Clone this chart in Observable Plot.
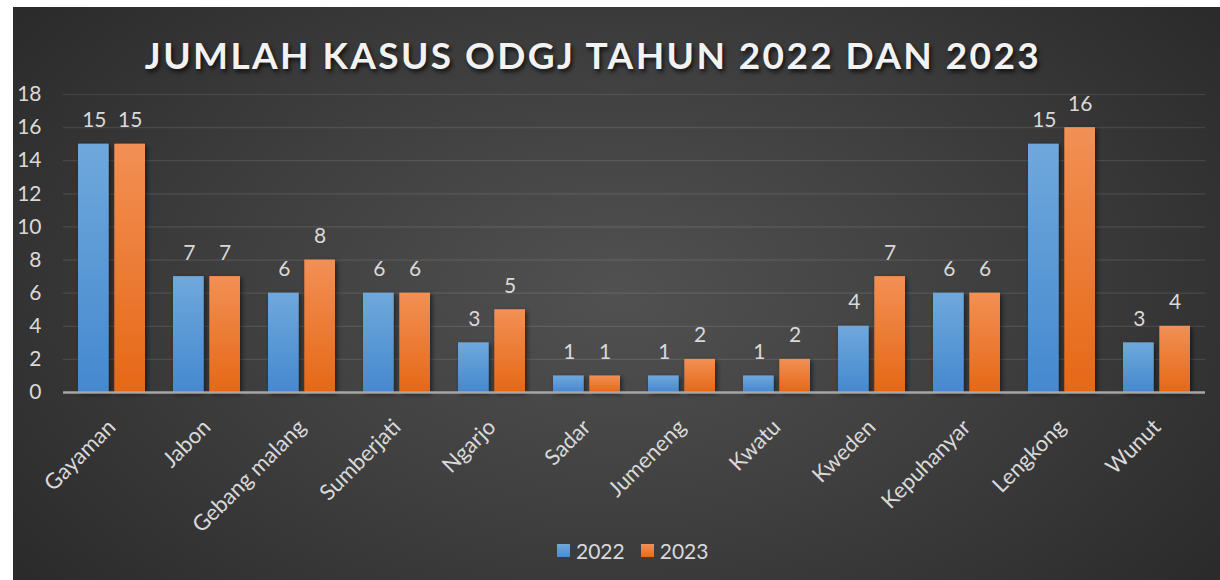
<!DOCTYPE html>
<html>
<head>
<meta charset="utf-8">
<script src="https://cdn.jsdelivr.net/npm/d3@7"></script>
<script src="https://cdn.jsdelivr.net/npm/@observablehq/plot@0.6"></script>
<style>
  html, body { margin: 0; padding: 0; background: #ffffff; }
  #frame {
    position: absolute; left: 13px; top: 7px; width: 1207px; height: 573px;
    background: radial-gradient(ellipse 62% 80% at 50% 50%, #515151 0%, #3f3f3f 50%, #2b2b2b 100%);
    overflow: hidden;
    font-family: Lato, "Open Sans", sans-serif;
  }
  #title {
    position: absolute; left: 0; width: 1160px; top: 25px; text-align: center;
    font-size: 37px; font-weight: 700; letter-spacing: 2.4px; color: #f2f2f2;
    text-shadow: 2px 3px 4px rgba(0,0,0,0.7);
  }
  #chart { position: absolute; left: 0; top: 73px; }
  #chart svg { overflow: visible; }
  #legend {
    position: absolute; left: 544px; top: 531px; display: flex; align-items: center;
    font-size: 21px; color: #d9d9d9;
  }
  .sw { width: 13px; height: 13px; display: inline-block; margin-right: 6px; }
  .item { display: flex; align-items: center; margin-right: 16px; }
</style>
</head>
<body>
<div id="frame">
  <div id="title">JUMLAH KASUS ODGJ TAHUN 2022 DAN 2023</div>
  <div id="chart"></div>
  <div id="legend"></div>
</div>
<script>
const categories = ["Gayaman","Jabon","Gebang malang","Sumberjati","Ngarjo","Sadar","Jumeneng","Kwatu","Kweden","Kepuhanyar","Lengkong","Wunut"];
const values2022 = [15,7,6,6,3,1,1,1,4,6,15,3];
const values2023 = [15,7,8,6,5,1,2,2,7,6,16,4];
const years = ["2022","2023"];
const yTicks = [0,2,4,6,8,10,12,14,16,18];

const swatchCss = {"2022": "linear-gradient(#6fa8dc,#4a8bd0)", "2023": "linear-gradient(#f29055,#e8691a)"};

const rows2022 = categories.map((c, i) => ({cat: c, value: values2022[i]}));
const rows2023 = categories.map((c, i) => ({cat: c, value: values2023[i]}));

function defs() {
  const ns = "http://www.w3.org/2000/svg";
  const d = document.createElementNS(ns, "defs");
  const mk = (id, top, bot) => {
    const g = document.createElementNS(ns, "linearGradient");
    g.setAttribute("id", id);
    g.setAttribute("x1", "0"); g.setAttribute("y1", "0");
    g.setAttribute("x2", "0"); g.setAttribute("y2", "1");
    [[0, top], [1, bot]].forEach(([o, c]) => {
      const s = document.createElementNS(ns, "stop");
      s.setAttribute("offset", o); s.setAttribute("stop-color", c);
      g.appendChild(s);
    });
    d.appendChild(g);
  };
  mk("gBlue", "#6fa8dc", "#4589cf");
  mk("gOrange", "#f29055", "#e66816");
  const f = document.createElementNS(ns, "filter");
  f.setAttribute("id", "shadow");
  f.setAttribute("x", "-30%"); f.setAttribute("y", "-10%");
  f.setAttribute("width", "160%"); f.setAttribute("height", "130%");
  f.innerHTML = '<feDropShadow dx="2" dy="2" stdDeviation="2.5" flood-color="#000" flood-opacity="0.55"/>';
  d.appendChild(f);
  return d;
}

// layout: band step ≈ 95.2px, bandwidth ≈ 66.6px, each bar ≈ 30.3px, gap 6px
const W = 1207, ML = 50, MR = 15;
const step = (W - ML - MR) / categories.length;
const band = step * 0.7;
const gap = 6;
const half = (band - gap) / 2;
const off = (half + gap) / 2;

const chart = Plot.plot({
  width: W,
  height: 455,
  marginLeft: ML,
  marginRight: MR,
  marginTop: 14,
  marginBottom: 143,
  style: {background: "transparent", fontFamily: "Lato, 'Open Sans', sans-serif", color: "#d9d9d9", overflow: "visible"},
  x: {domain: categories, paddingInner: 0.3, paddingOuter: 0.15, label: null},
  y: {domain: [0, 18], label: null},
  marks: [
    defs,
    Plot.gridY(yTicks.filter(t => t > 0), {stroke: "#ffffff", strokeOpacity: 0.1, strokeWidth: 1.2}),
    Plot.axisY({ticks: yTicks, tickSize: 0, tickPadding: 22, fontSize: 21, fill: "#d9d9d9", label: null}),
    Plot.axisX({tickRotate: -45, tickSize: 0, tickPadding: 31, fontSize: 22, fill: "#d9d9d9", label: null}),
    Plot.barY(rows2022, {x: "cat", y: "value", fill: "url(#gBlue)", insetRight: half + gap}),
    Plot.barY(rows2023, {x: "cat", y: "value", fill: "url(#gOrange)", insetLeft: half + gap}),
    Plot.text(rows2022, {x: "cat", y: "value", text: d => String(d.value), dx: -off + 0.5, dy: -17, lineAnchor: "bottom", fontSize: 21, fill: "#d9d9d9"}),
    Plot.text(rows2023, {x: "cat", y: "value", text: d => String(d.value), dx: off, dy: -17, lineAnchor: "bottom", fontSize: 21, fill: "#d9d9d9"}),
    Plot.ruleY([0], {stroke: "#a6a6a6", strokeWidth: 2.5})
  ]
});
chart.querySelectorAll("g[fill^='url']").forEach(g => g.setAttribute("filter", "url(#shadow)"));
document.getElementById("chart").appendChild(chart);

const legend = document.getElementById("legend");
years.forEach(y => {
  const it = document.createElement("div");
  it.className = "item";
  it.innerHTML = `<span class="sw" style="background:${swatchCss[y]}"></span><span>${y}</span>`;
  legend.appendChild(it);
});
</script>
</body>
</html>
